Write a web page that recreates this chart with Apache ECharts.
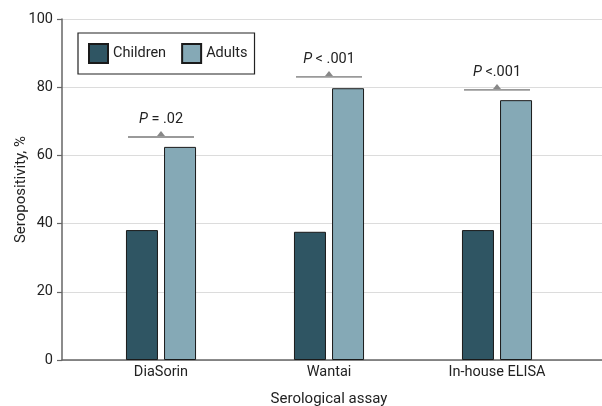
<!DOCTYPE html>
<html><head><meta charset="utf-8">
<script src="https://cdn.jsdelivr.net/npm/echarts@6/dist/echarts.min.js"></script>
<style>html,body{margin:0;padding:0;background:#fff}#c{width:602px;height:406px}</style>
</head><body><div id="c"></div>
<script>
const categories = ['DiaSorin', 'Wantai', 'In-house ELISA'];
const children = [38.1, 37.6, 38.1];
const adults = [62.5, 79.7, 76.2];
const sigLevels = [65.4, 83.0, 79.2];
const sigLabels = ['= .02', '< .001', '<.001'];
const yTicks = [0, 20, 40, 60, 80, 100];

const font = 'Roboto';
const fs = 14.5;
const chart = echarts.init(document.getElementById('c'));
chart.setOption({
  animation: false,
  textStyle: { fontFamily: font },
  grid: [
    { left: 62, right: 0, top: 19, bottom: 46, outerBoundsMode: 'none', containLabel: false },
    { left: 77, right: 21, top: 19, bottom: 46, outerBoundsMode: 'none', containLabel: false }
  ],
  legend: {
    data: ['Children', 'Adults'],
    left: 78, top: 33,
    orient: 'horizontal',
    icon: 'rect',
    borderColor: '#222', borderWidth: 1.2,
    padding: [10, 7, 10, 10],
    itemWidth: 19, itemHeight: 19, itemGap: 15,
    textStyle: { fontFamily: font, fontSize: fs, color: '#222' }
  },
  xAxis: [
    { gridIndex: 0, type: 'category', data: categories, axisLine: { lineStyle: { color: '#666', width: 1.5 } },
      axisTick: { show: false }, axisLabel: { show: false } },
    { gridIndex: 1, type: 'category', data: categories,
      axisLine: { show: false }, axisTick: { show: false },
      axisLabel: { fontFamily: font, fontSize: fs, color: '#222', margin: 5 },
      name: 'Serological assay', nameLocation: 'middle', nameGap: 32, nameMoveOverlap: false,
      nameTextStyle: { fontFamily: font, fontSize: 15, color: '#222' } }
  ],
  yAxis: [
    { gridIndex: 0, type: 'value', min: yTicks[0], max: yTicks[yTicks.length - 1], interval: 20,
      axisLine: { show: true, lineStyle: { color: '#666', width: 1.5 } },
      axisTick: { show: true, length: 5, lineStyle: { color: '#666', width: 1.2 } },
      axisLabel: { fontFamily: font, fontSize: fs, color: '#222', margin: 9 },
      splitLine: { lineStyle: { color: '#dcdcdc', width: 1.2 } },
      name: 'Seropositivity, %', nameLocation: 'middle', nameGap: 33, nameMoveOverlap: false,
      nameTextStyle: { fontFamily: font, fontSize: 15, color: '#222' } },
    { gridIndex: 1, type: 'value', min: yTicks[0], max: yTicks[yTicks.length - 1], interval: 20,
      show: false }
  ],
  series: [
    { name: 'Children', type: 'bar', xAxisIndex: 1, yAxisIndex: 1, data: children,
      barWidth: 32, barGap: '19%',
      itemStyle: { color: '#2f5563', borderColor: '#1a1a1a', borderWidth: 1 } },
    { name: 'Adults', type: 'bar', xAxisIndex: 1, yAxisIndex: 1, data: adults,
      barWidth: 32, barGap: '19%',
      itemStyle: { color: '#85a9b6', borderColor: '#1a1a1a', borderWidth: 1 } },
    { type: 'custom', xAxisIndex: 1, yAxisIndex: 1, silent: true,
      data: categories.map((c, i) => [i, sigLevels[i], sigLabels[i]]),
      renderItem: function (params, api) {
        const p = api.coord([api.value(0), api.value(1)]);
        const x = p[0], y = p[1];
        const label = sigLabels[params.dataIndex];
        return {
          type: 'group',
          children: [
            { type: 'line', shape: { x1: x - 33, y1: y, x2: x + 33, y2: y },
              style: { stroke: '#9a9a9a', lineWidth: 1.8 } },
            { type: 'polygon', shape: { points: [[x - 4, y - 1], [x + 4, y - 1], [x, y - 6]] },
              style: { fill: '#888' } },
            { type: 'text', x: x, y: y - 18,
              style: { text: '{i|P} ' + label, align: 'center', verticalAlign: 'middle',
                fontFamily: font, fontSize: fs, fill: '#222',
                rich: { i: { fontStyle: 'italic', fontFamily: font, fontSize: fs, color: '#222' } } } }
          ]
        };
      }
    }
  ]
});
</script></body></html>
